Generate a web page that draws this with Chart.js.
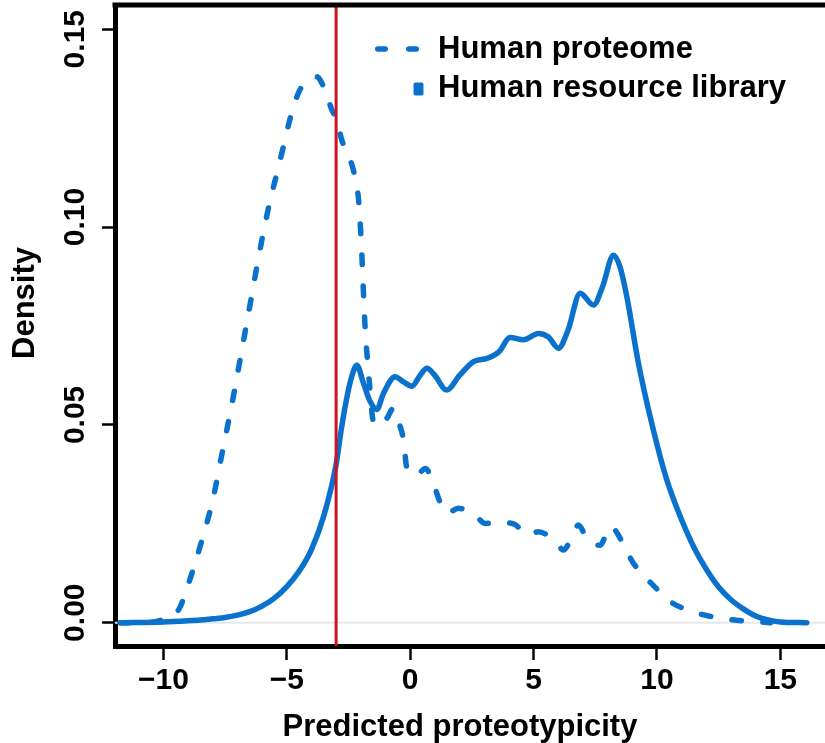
<!DOCTYPE html>
<html>
<head>
<meta charset="utf-8">
<script src="https://cdn.jsdelivr.net/npm/chart.js"></script>
<style>
  html, body { margin: 0; padding: 0; background: #fff; }
</style>
</head>
<body>
<canvas id="density" width="825" height="743"></canvas>
<script>
// density curves, read as (x, density) pairs
const proteomeX = [-11.75, -10.5, -10, -9.6, -9.32, -9, -8.5, -8, -7.63, -7.2, -6.6, -6.01, -5.67, -5.4, -5.13, -4.86, -4.52, -4.2, -3.78, -3.51, -3.17, -2.97, -2.77, -2.5, -2.3, -2.09, -2.0, -1.82, -1.73, -1.65, -1.49, -1.25, -0.94, -0.68, -0.4, -0.27, -0.13, 0.27, 0.61, 0.97, 1.15, 1.49, 1.96, 2.63, 3.04, 3.72, 4.19, 4.8, 5.2, 5.88, 6.21, 6.62, 6.82, 7.1, 7.36, 7.7, 8.1, 8.31, 8.78, 9.05, 9.52, 10.0, 10.5, 11.0, 11.62, 12.83, 14.18, 14.6];
const proteomeY = [0, 0.0001, 0.0008, 0.0017, 0.004, 0.0095, 0.0195, 0.031, 0.0425, 0.056, 0.0765, 0.0967, 0.1068, 0.1136, 0.1205, 0.1275, 0.134, 0.1368, 0.138, 0.1355, 0.1296, 0.127, 0.122, 0.118, 0.1144, 0.1069, 0.0984, 0.074, 0.0664, 0.0605, 0.0508, 0.0498, 0.0517, 0.0542, 0.0495, 0.0462, 0.039, 0.0373, 0.039, 0.0348, 0.0314, 0.0277, 0.0289, 0.0272, 0.0251, 0.0253, 0.025, 0.0222, 0.023, 0.0205, 0.0184, 0.0226, 0.0247, 0.022, 0.0201, 0.0196, 0.0243, 0.0234, 0.018, 0.015, 0.0116, 0.0085, 0.0055, 0.0038, 0.0024, 0.0009, 0.0002, 0];

const libraryX = [-11.75, -10, -9, -8.5, -8, -7.5, -7, -6.5, -6, -5.5, -5, -4.5, -4, -3.5, -3, -2.8, -2.6, -2.4, -2.16, -1.89, -1.62, -1.35, -1.08, -0.61, -0.25, 0.07, 0.4, 0.68, 1.0, 1.48, 2.0, 2.57, 3.11, 3.6, 4.05, 4.59, 5.2, 5.6, 6.01, 6.4, 6.89, 7.43, 7.8, 8.24, 8.5, 8.78, 9.25, 9.79, 10.4, 11.0, 11.5, 12.0, 12.5, 13.0, 13.5, 14.0, 14.5, 15.0, 16.07];
const libraryY = [0, 0.0002, 0.0005, 0.0007, 0.001, 0.0013, 0.0019, 0.0028, 0.0042, 0.0062, 0.0091, 0.013, 0.0185, 0.027, 0.040, 0.0485, 0.0558, 0.0615, 0.0651, 0.0605, 0.0559, 0.0539, 0.058, 0.0622, 0.0608, 0.0598, 0.0625, 0.0643, 0.0625, 0.0588, 0.0625, 0.066, 0.0668, 0.0685, 0.0721, 0.0715, 0.0731, 0.0722, 0.0694, 0.074, 0.0833, 0.0803, 0.085, 0.0929, 0.09, 0.0824, 0.0656, 0.0504, 0.0361, 0.026, 0.019, 0.0135, 0.009, 0.0058, 0.0035, 0.0017, 0.0007, 0.0002, 0];

const seriesNames = ['Human proteome', 'Human resource library'];
const xTicks = [-10, -5, 0, 5, 10, 15];
const xTickLabels = ['\u221210', '\u22125', '0', '5', '10', '15'];
const yTicks = [0, 0.05, 0.10, 0.15];
const yTickLabels = ['0.00', '0.05', '0.10', '0.15'];
const cutoff = -3;

const BLUE = '#0a72cc';
const RED = '#cf1020';
const FONT = '"Liberation Sans", Arial, Helvetica, sans-serif';
const DASH = [9.5, 21.5];
const LEGEND_DASH = [7.5, 23.5];

function toPoints(xs, ys) {
  return xs.map((x, i) => ({ x, y: ys[i] }));
}

// baseline, cutoff line, box top, rotated y labels, titles and legend
const decorations = {
  id: 'decorations',
  beforeDatasetsDraw(chart) {
    const { ctx, chartArea: a, scales: { y } } = chart;
    const y0 = y.getPixelForValue(0);
    ctx.save();
    ctx.strokeStyle = '#e8e8e8';
    ctx.lineWidth = 2;
    ctx.beginPath();
    ctx.moveTo(a.left, y0);
    ctx.lineTo(a.right, y0);
    ctx.stroke();
    ctx.restore();
  },
  afterDatasetsDraw(chart) {
    const { ctx, chartArea: a, scales: { x } } = chart;
    const xc = x.getPixelForValue(cutoff);
    ctx.save();
    ctx.strokeStyle = RED;
    ctx.lineWidth = 3;
    ctx.beginPath();
    ctx.moveTo(xc, a.top);
    ctx.lineTo(xc, a.bottom);
    ctx.stroke();

    ctx.strokeStyle = '#000';
    ctx.lineWidth = 5;
    ctx.beginPath();
    ctx.moveTo(a.left - 2.5, a.top);
    ctx.lineTo(a.right, a.top);
    ctx.stroke();
    ctx.restore();
  },
  afterDraw(chart) {
    const { ctx, scales: { y } } = chart;
    ctx.save();
    ctx.fillStyle = '#000';
    ctx.font = 'bold 30px ' + FONT;

    // y tick labels, reading upwards
    ctx.textAlign = 'center';
    ctx.textBaseline = 'alphabetic';
    yTicks.forEach((v, i) => {
      const w = ctx.measureText(yTickLabels[i]).width;
      let cy = y.getPixelForValue(v) - 10;
      if (cy - w / 2 < 10) cy = 10 + w / 2;
      ctx.save();
      ctx.translate(83.5, cy);
      ctx.rotate(-Math.PI / 2);
      ctx.fillText(yTickLabels[i], 0, 0);
      ctx.restore();
    });

    // axis titles
    ctx.font = 'bold 31px ' + FONT;
    ctx.save();
    ctx.translate(34, 303);
    ctx.rotate(-Math.PI / 2);
    ctx.fillText('Density', 0, 0);
    ctx.restore();
    ctx.fillText('Predicted proteotypicity', 460, 736);

    // legend
    const ds = chart.data.datasets;
    ctx.strokeStyle = BLUE;
    ctx.lineWidth = 5.5;
    ctx.lineCap = 'round';
    ctx.setLineDash(LEGEND_DASH);
    ctx.beginPath();
    ctx.moveTo(377.75, 49);
    ctx.lineTo(420, 49);
    ctx.stroke();
    ctx.setLineDash([]);
    ctx.fillStyle = BLUE;
    ctx.beginPath();
    ctx.roundRect(413.5, 82.5, 10, 13, 2);
    ctx.fill();

    ctx.fillStyle = '#000';
    ctx.textAlign = 'left';
    ctx.fillText(ds[0].label, 438, 58);
    ctx.fillText(ds[1].label, 438, 97);
    ctx.restore();
  }
};

new Chart(document.getElementById('density'), {
  type: 'line',
  data: {
    datasets: [
      {
        label: seriesNames[0],
        data: toPoints(proteomeX, proteomeY),
        borderColor: BLUE,
        borderWidth: 5.5,
        borderDash: DASH,
        borderCapStyle: 'round',
        pointRadius: 0,
        cubicInterpolationMode: 'monotone',
        fill: false,
      },
      {
        label: seriesNames[1],
        data: toPoints(libraryX, libraryY),
        borderColor: BLUE,
        borderWidth: 5.5,
        borderCapStyle: 'round',
        pointRadius: 0,
        cubicInterpolationMode: 'monotone',
        fill: false,
      },
    ],
  },
  options: {
    responsive: false,
    animation: false,
    devicePixelRatio: 1,
    layout: { padding: { top: 5, left: 0, right: 0, bottom: 0 } },
    plugins: {
      legend: { display: false },
      tooltip: { enabled: false },
    },
    scales: {
      x: {
        type: 'linear',
        min: -11.96,
        max: 16.81,
        afterBuildTicks: (s) => { s.ticks = xTicks.map((v) => ({ value: v })); },
        afterFit: (s) => { s.height = 97; },
        ticks: {
          callback: (v) => xTickLabels[xTicks.indexOf(v)],
          font: { family: FONT, size: 30, weight: 'bold' },
          color: '#000',
          padding: 3,
          maxRotation: 0,
          autoSkip: false,
        },
        grid: {
          drawOnChartArea: false,
          color: '#000',
          tickLength: 14,
          tickWidth: 2.5,
        },
        border: { display: true, color: '#000', width: 5 },
      },
      y: {
        type: 'linear',
        min: -0.00589,
        max: 0.15614,
        afterBuildTicks: (s) => { s.ticks = yTicks.map((v) => ({ value: v })); },
        afterFit: (s) => { s.width = 115; },
        ticks: { display: false },
        grid: {
          drawOnChartArea: false,
          color: '#000',
          tickLength: 13,
          tickWidth: 2.5,
        },
        border: { display: true, color: '#000', width: 5 },
      },
    },
  },
  plugins: [decorations],
});
</script>
</body>
</html>
